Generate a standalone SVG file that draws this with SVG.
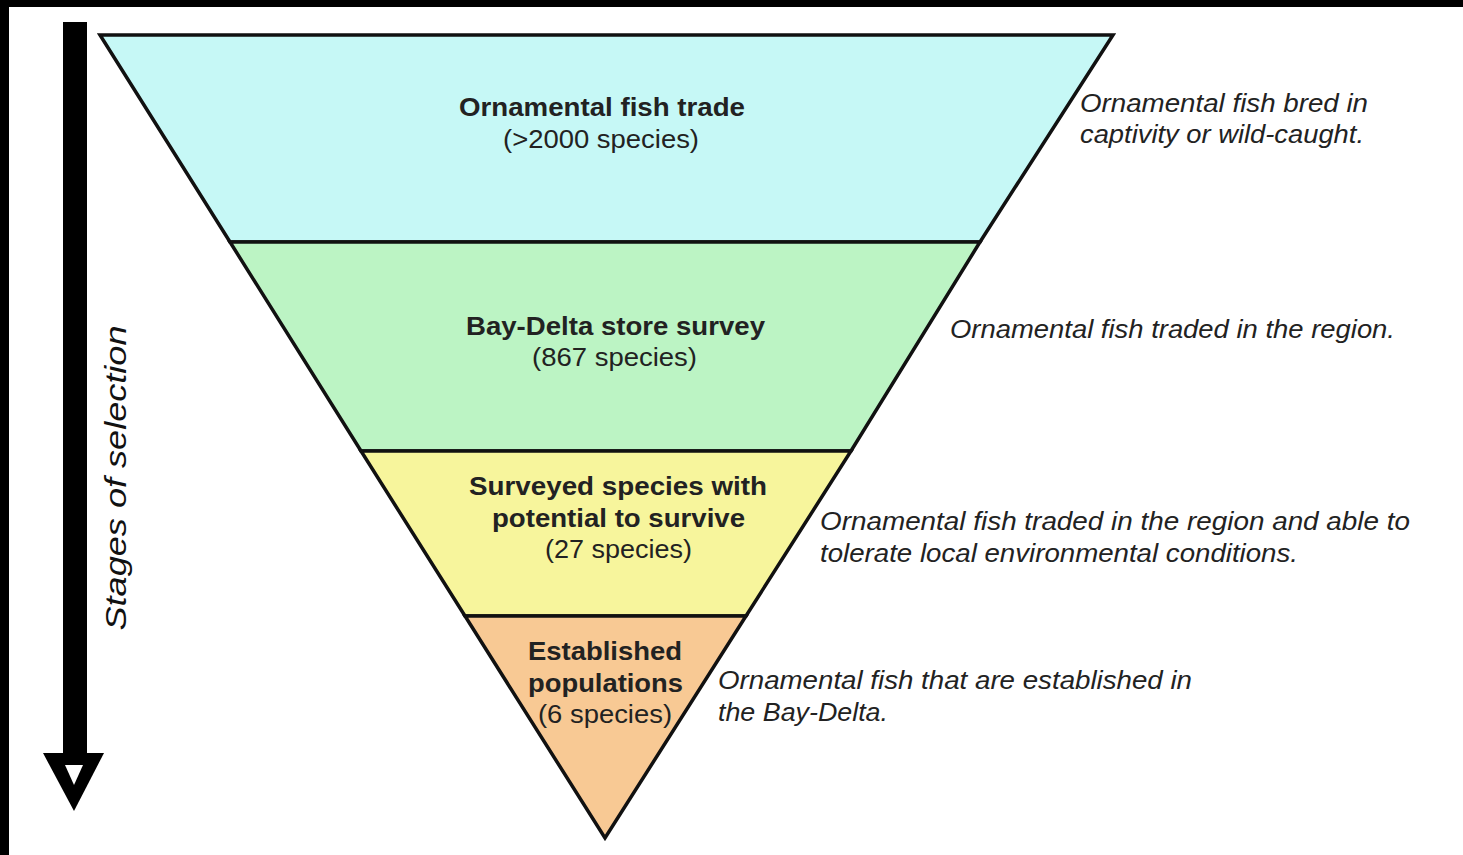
<svg xmlns="http://www.w3.org/2000/svg" width="1463" height="855" viewBox="0 0 1463 855">
<style>
.lvl{stroke:#111;stroke-width:3.5;stroke-linejoin:miter}
.t{font-family:"Liberation Sans",Arial,sans-serif;fill:#222;text-anchor:middle;font-size:25px}
.b{font-weight:bold;font-size:26px}
.d{font-family:"Liberation Sans",Arial,sans-serif;fill:#222;font-style:italic;font-size:25px}
</style>
<rect x="0" y="0" width="1463" height="855" fill="#fff"/>
<rect x="0" y="0" width="1463" height="7" fill="#000"/>
<rect x="0" y="0" width="9" height="855" fill="#000"/>
<g id="axis">
<rect x="63" y="22" width="24" height="740" fill="#000"/>
<polygon points="43,753 104,753 74,811" fill="#000"/>
<polygon points="65,765 83,765 74,785" fill="#fff"/>
<text x="0" y="0" transform="translate(126,478) rotate(-90)" textLength="305" lengthAdjust="spacingAndGlyphs" style="font-family:'Liberation Sans',Arial,sans-serif;font-style:italic;font-size:30px;fill:#111;text-anchor:middle">Stages of selection</text>
</g>
<g id="level1">
<polygon class="lvl" points="100,35 1113,35 980,242 230,242" fill="#c6f8f6"/>
<text class="t b" x="602" y="116" textLength="286" lengthAdjust="spacingAndGlyphs">Ornamental fish trade</text>
<text class="t" x="601" y="148" textLength="196" lengthAdjust="spacingAndGlyphs">(&gt;2000 species)</text>
<text class="d" x="1080" y="112" textLength="288" lengthAdjust="spacingAndGlyphs">Ornamental fish bred in</text>
<text class="d" x="1080" y="143" textLength="284" lengthAdjust="spacingAndGlyphs">captivity or wild-caught.</text>
</g>
<g id="level2">
<polygon class="lvl" points="230,242 980,242 851,451 361,451" fill="#bcf4c4"/>
<text class="t b" x="615.5" y="335" textLength="299" lengthAdjust="spacingAndGlyphs">Bay-Delta store survey</text>
<text class="t" x="614.5" y="366" textLength="165" lengthAdjust="spacingAndGlyphs">(867 species)</text>
<text class="d" x="950" y="338" textLength="445" lengthAdjust="spacingAndGlyphs">Ornamental fish traded in the region.</text>
</g>
<g id="level3">
<polygon class="lvl" points="361,451 851,451 746,616 465,616" fill="#f7f59c"/>
<text class="t b" x="618" y="495" textLength="298" lengthAdjust="spacingAndGlyphs">Surveyed species with</text>
<text class="t b" x="618.5" y="527" textLength="253" lengthAdjust="spacingAndGlyphs">potential to survive</text>
<text class="t" x="618.5" y="558" textLength="147" lengthAdjust="spacingAndGlyphs">(27 species)</text>
<text class="d" x="820" y="530" textLength="590" lengthAdjust="spacingAndGlyphs">Ornamental fish traded in the region and able to</text>
<text class="d" x="820" y="562" textLength="478" lengthAdjust="spacingAndGlyphs">tolerate local environmental conditions.</text>
</g>
<g id="level4">
<polygon class="lvl" points="465,616 746,616 605,838" fill="#f8c994"/>
<text class="t b" x="605" y="660" textLength="154" lengthAdjust="spacingAndGlyphs">Established</text>
<text class="t b" x="605.5" y="692" textLength="155" lengthAdjust="spacingAndGlyphs">populations</text>
<text class="t" x="605" y="723" textLength="134" lengthAdjust="spacingAndGlyphs">(6 species)</text>
<text class="d" x="718" y="689" textLength="474" lengthAdjust="spacingAndGlyphs">Ornamental fish that are established in</text>
<text class="d" x="718" y="721" textLength="170" lengthAdjust="spacingAndGlyphs">the Bay-Delta.</text>
</g>
</svg>
